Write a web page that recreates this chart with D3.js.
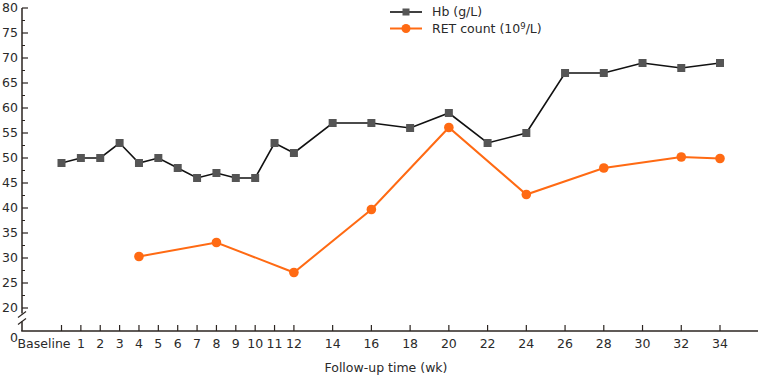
<!DOCTYPE html>
<html>
<head>
<meta charset="utf-8">
<script src="https://cdn.jsdelivr.net/npm/d3@7"></script>
<style>
  body { margin: 0; background: #fff; }
  text { font-family: "DejaVu Sans", Verdana, sans-serif; fill: #2a2a2a; }
</style>
</head>
<body>
<svg id="chart"></svg>
<script>
const weeks = [0, 1, 2, 3, 4, 5, 6, 7, 8, 9, 10, 11, 12, 14, 16, 18, 20, 22, 24, 26, 28, 30, 32, 34];
const weekLabels = ["Baseline", "1", "2", "3", "4", "5", "6", "7", "8", "9", "10", "11", "12",
    "14", "16", "18", "20", "22", "24", "26", "28", "30", "32", "34"];
const hb = [49, 50, 50, 53, 49, 50, 48, 46, 47, 46, 46, 53, 51, 57, 57, 56, 59, 53, 55, 67, 67, 69, 68, 69];
const retWeeks = [4, 8, 12, 16, 20, 24, 28, 32, 34];
const retCount = [30.3, 33.1, 27.1, 39.7, 56.1, 42.7, 48.0, 50.2, 49.9];
const yTicks = [0, 20, 25, 30, 35, 40, 45, 50, 55, 60, 65, 70, 75, 80];
const yMinor = [22.5, 27.5, 32.5, 37.5, 42.5, 47.5, 52.5, 57.5, 62.5, 67.5, 72.5, 77.5];

const svg_width = 759, svg_height = 380;
const svg = d3.select("#chart")
    .attr("width", svg_width)
    .attr("height", svg_height);

const axisX0 = 22, axisX1 = 758, axisY = 331;
const x = d3.scaleLinear().domain([0, 34]).range([61.5, 720]);
// broken axis: 0 sits right on the x axis, 20..80 is linear
const y = d3.scaleLinear().domain([0, 20, 80]).range([axisY, 308, 8]);

const axisColor = "#2b2420";

// y axis line with break
svg.append("line")
    .attr("x1", axisX0).attr("x2", axisX0)
    .attr("y1", y(80)).attr("y2", 313.5)
    .attr("stroke", axisColor).attr("stroke-width", 1.5);
svg.append("line")
    .attr("x1", axisX0).attr("x2", axisX0)
    .attr("y1", 321.5).attr("y2", axisY)
    .attr("stroke", axisColor).attr("stroke-width", 1.5);
[315, 322].forEach(yy => {
    svg.append("line")
        .attr("x1", axisX0 - 4).attr("x2", axisX0 + 4)
        .attr("y1", yy + 2.5).attr("y2", yy - 3.5)
        .attr("stroke", axisColor).attr("stroke-width", 1.2);
});

// y ticks
svg.selectAll(".ytick")
    .data(yTicks.filter(d => d > 0))
    .join("line")
    .attr("x1", axisX0).attr("x2", axisX0 + 6)
    .attr("y1", d => y(d)).attr("y2", d => y(d))
    .attr("stroke", axisColor).attr("stroke-width", 1.2);
svg.selectAll(".yminor")
    .data(yMinor)
    .join("line")
    .attr("x1", axisX0).attr("x2", axisX0 + 3)
    .attr("y1", d => y(d)).attr("y2", d => y(d))
    .attr("stroke", axisColor).attr("stroke-width", 1);
svg.selectAll(".ylabel")
    .data(yTicks)
    .join("text")
    .attr("x", 18)
    .attr("y", d => d === 0 ? 338 : y(d))
    .attr("dy", "0.35em")
    .attr("text-anchor", "end")
    .attr("font-size", 12.5)
    .text(d => d);

// x axis
svg.append("line")
    .attr("x1", axisX0 - 0.75).attr("x2", axisX1)
    .attr("y1", axisY).attr("y2", axisY)
    .attr("stroke", axisColor).attr("stroke-width", 1.5);
svg.selectAll(".xtick")
    .data(weeks)
    .join("line")
    .attr("x1", d => x(d)).attr("x2", d => x(d))
    .attr("y1", axisY).attr("y2", axisY - 6)
    .attr("stroke", axisColor).attr("stroke-width", 1.2);
svg.selectAll(".xlabel")
    .data(weeks)
    .join("text")
    .attr("x", (d, i) => i === 0 ? x(d) + 9 : x(d))
    .attr("y", 344)
    .attr("dy", "0.35em")
    .attr("text-anchor", (d, i) => i === 0 ? "end" : "middle")
    .attr("font-size", 12.5)
    .text((d, i) => weekLabels[i]);

svg.append("text")
    .attr("x", 386)
    .attr("y", 368)
    .attr("dy", "0.35em")
    .attr("text-anchor", "middle")
    .attr("font-size", 12.5)
    .text("Follow-up time (wk)");

// series
const hbColor = "#111", hbMarker = "#555";
const retColor = "#ff6a13";

const hbData = weeks.map((w, i) => ({ w: w, v: hb[i] }));
const retData = retWeeks.map((w, i) => ({ w: w, v: retCount[i] }));

const line = d3.line().x(d => x(d.w)).y(d => y(d.v));

svg.append("path")
    .datum(retData)
    .attr("fill", "none")
    .attr("stroke", retColor)
    .attr("stroke-width", 2)
    .attr("d", line);

svg.append("path")
    .datum(hbData)
    .attr("fill", "none")
    .attr("stroke", hbColor)
    .attr("stroke-width", 1.6)
    .attr("d", line);

svg.selectAll(".hb")
    .data(hbData)
    .join("rect")
    .attr("x", d => x(d.w) - 4).attr("y", d => y(d.v) - 4)
    .attr("width", 8).attr("height", 8)
    .attr("fill", hbMarker);

svg.selectAll(".ret")
    .data(retData)
    .join("circle")
    .attr("cx", d => x(d.w)).attr("cy", d => y(d.v))
    .attr("r", 4.8)
    .attr("fill", retColor);

// legend
const legend = svg.append("g").attr("transform", "translate(390,0)");
legend.append("line")
    .attr("x1", 0).attr("x2", 32).attr("y1", 12).attr("y2", 12)
    .attr("stroke", hbColor).attr("stroke-width", 1.6);
legend.append("rect")
    .attr("x", 12.5).attr("y", 8.5).attr("width", 7).attr("height", 7)
    .attr("fill", hbMarker);
legend.append("text")
    .attr("x", 42).attr("y", 12).attr("dy", "0.35em")
    .attr("font-size", 12.5)
    .text("Hb (g/L)");

legend.append("line")
    .attr("x1", 0).attr("x2", 32).attr("y1", 28.5).attr("y2", 28.5)
    .attr("stroke", retColor).attr("stroke-width", 2);
legend.append("circle")
    .attr("cx", 16).attr("cy", 28.5).attr("r", 4.5)
    .attr("fill", retColor);
const t2 = legend.append("text")
    .attr("x", 42).attr("y", 28.5).attr("dy", "0.35em")
    .attr("font-size", 12.5);
t2.append("tspan").text("RET count (10");
t2.append("tspan").attr("font-size", 8.5).attr("dy", "-0.5em").text("9");
t2.append("tspan").attr("dy", "0.35em").text("/L)");
</script>
</body>
</html>
